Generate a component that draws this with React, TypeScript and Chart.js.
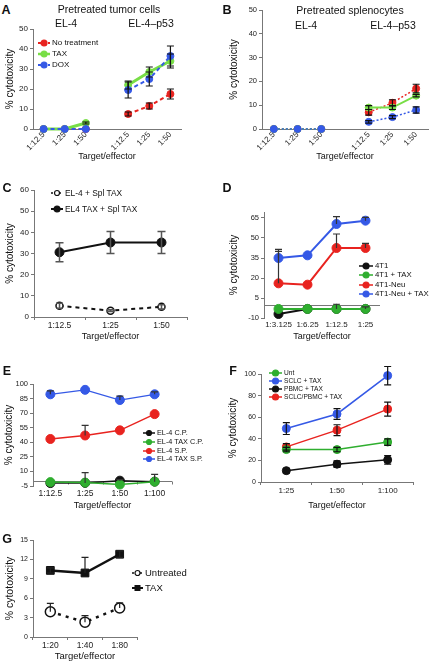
import React, { useEffect, useRef } from "react";
import { Chart, registerables } from "chart.js";

Chart.register(...registerables);

const FONT = '"Liberation Sans", Arial, Helvetica, sans-serif';
Chart.defaults.font.family = FONT;

const RED = "#e8231f";
const LIME = "#78de46";
const BLUE = "#3559e6";
const GREEN = "#2fae2f";
const BLACK = "#111111";
const AXIS = "#777777";

// ---------- Panel A: Pretreated tumor cells ----------
const A_CATEGORIES = ["1:12.5", "1:25", "1:50", "", "1:12.5", "1:25", "1:50"];
const A_Y_TICKS = [0, 10, 20, 30, 40, 50];
const A_NO_TREATMENT = [0, 0, 0, null, 7.5, 11.5, 17.5];
const A_NO_TREATMENT_ERR = [0, 0, 0, 0, 1, 1.5, 2.5];
const A_TAX = [0, 0, 3, null, 22, 28.5, 34];
const A_TAX_ERR = [0, 0, 0.5, 0, 2, 2.5, 3.5];
const A_DOX = [0, 0, 0, null, 19.5, 25, 36.5];
const A_DOX_ERR = [0, 0, 0, 0, 4, 3.5, 5];

// ---------- Panel B: Pretreated splenocytes ----------
const B_CATEGORIES = ["1:12.5", "1:25", "1:50", "", "1:12.5", "1:25", "1:50"];
const B_Y_TICKS = [0, 10, 20, 30, 40, 50];
const B_NO_TREATMENT = [0, 0, 0, null, 7, 11, 17];
const B_NO_TREATMENT_ERR = [0, 0, 0, 0, 1.2, 1.3, 1.8];
const B_TAX = [0, 0, 0, null, 9, 9, 14];
const B_TAX_ERR = [0, 0, 0, 0, 0.8, 0.8, 0.5];
const B_DOX = [0, 0, 0, null, 3, 5, 8];
const B_DOX_ERR = [0, 0, 0, 0, 0.5, 0.6, 1.3];

// ---------- Panel C ----------
const C_CATEGORIES = ["1:12.5", "1:25", "1:50"];
const C_Y_TICKS = [0, 10, 20, 30, 40, 50, 60];
const C_EL4_SPL_TAX = [5.3, 3.0, 4.8];
const C_EL4_SPL_TAX_ERR = [1.2, 0.4, 1.0];
const C_EL4TAX_SPL_TAX = [30.6, 35.2, 35.2];
const C_EL4TAX_SPL_TAX_ERR = [4.5, 5.2, 5.2];

// ---------- Panel D ----------
const D_CATEGORIES = ["1:3.125", "1:6.25", "1:12.5", "1:25"];
const D_Y_TICKS = [-10, 5, 20, 35, 50, 65];
const D_4T1 = [-7, -3.2, -3.2, -3.2];
const D_4T1_ERR_UP = [0, 0, 3.5, 1.5];
const D_4T1_TAX = [-3.2, -3.2, -3.2, -3.2];
const D_4T1_TAX_ERR_UP = [0, 0, 0, 0];
const D_4T1_NEU = [16, 15, 42.5, 42.5];
const D_4T1_NEU_ERR_UP = [24, 0, 10.5, 3.5];
const D_4T1_NEU_TAX = [35, 37, 60.5, 63];
const D_4T1_NEU_TAX_ERR_UP = [6.5, 0, 5.5, 2.5];

// ---------- Panel E ----------
const E_CATEGORIES = ["1:12.5", "1:25", "1:50", "1:100"];
const E_Y_TICKS = [-5, 10, 25, 40, 55, 70, 85, 100];
const E_EL4_CP = [-2, -1.8, 0.5, -0.5];
const E_EL4_CP_ERR_UP = [0, 10.5, 1, 7.5];
const E_EL4TAX_CP = [-1, -1.5, -3.5, -0.5];
const E_EL4TAX_CP_ERR_UP = [0, 0, 0, 0];
const E_EL4_SP = [43.4, 47, 52.3, 69];
const E_EL4_SP_ERR_UP = [0, 10.5, 0, 0];
const E_EL4TAX_SP = [89.4, 94, 83.5, 89.4];
const E_EL4TAX_SP_ERR_UP = [3.5, 0, 4, 2.5];

// ---------- Panel F ----------
const F_CATEGORIES = ["1:25", "1:50", "1:100"];
const F_Y_TICKS = [0, 10, 20, 30, 40, 50, 60, 70, 80, 90, 100];
const F_UNT = [30, 30, 37];
const F_UNT_ERR = [2, 2, 3];
const F_SCLC_TAX = [49.5, 63, 98.5];
const F_SCLC_TAX_ERR = [5.5, 5, 8.6];
const F_PBMC_TAX = [10.5, 16.5, 20.5];
const F_PBMC_TAX_ERR = [2, 3, 4];
const F_SCLC_PBMC_TAX = [32.5, 48, 67.5];
const F_SCLC_PBMC_TAX_ERR = [3, 5, 6.5];

// ---------- Panel G ----------
const G_CATEGORIES = ["1:20", "1:40", "1:80"];
const G_Y_TICKS = [0, 3, 6, 9, 12, 15];
const G_UNTREATED = [3.9, 2.3, 4.5];
const G_UNTREATED_ERR_UP = [1.3, 1.0, 0.8];
const G_TAX = [10.3, 9.9, 12.8];
const G_TAX_ERR_UP = [0.4, 2.4, 0.5];
const G_TAX_ERR_DOWN = [0.4, 0, 0.5];

// ---------- plugins ----------
const errorBars = {
  id: "errorBars",
  afterDatasetsDraw(chart: any) {
    const ctx = chart.ctx;
    const ys = chart.scales.y;
    chart.data.datasets.forEach((ds: any, di: number) => {
      if (!ds.errUp && !ds.errDown) return;
      const meta = chart.getDatasetMeta(di);
      ctx.save();
      ctx.strokeStyle = ds.errColor || BLACK;
      ctx.lineWidth = ds.errWidth || 1.2;
      const cap = ds.errCap ?? 3.5;
      meta.data.forEach((el: any, i: number) => {
        const v = ds.data[i];
        if (v == null) return;
        const u = ds.errUp ? ds.errUp[i] || 0 : 0;
        const d = ds.errDown ? ds.errDown[i] || 0 : 0;
        if (!u && !d) return;
        const x = el.x;
        const y1 = ys.getPixelForValue(v + u);
        const y0 = ys.getPixelForValue(v - d);
        ctx.beginPath();
        ctx.moveTo(x, y1);
        ctx.lineTo(x, y0);
        if (u) {
          ctx.moveTo(x - cap, y1);
          ctx.lineTo(x + cap, y1);
        }
        if (d) {
          ctx.moveTo(x - cap, y0);
          ctx.lineTo(x + cap, y0);
        }
        ctx.stroke();
      });
      ctx.restore();
    });
  },
};

function zeroLine(withTicks: boolean) {
  return {
    id: "zeroLine",
    beforeDatasetsDraw(chart: any) {
      const { ctx } = chart;
      const xs = chart.scales.x;
      const y = Math.round(chart.scales.y.getPixelForValue(0)) + 0.5;
      ctx.save();
      ctx.strokeStyle = AXIS;
      ctx.lineWidth = 1;
      ctx.beginPath();
      ctx.moveTo(xs.left, y);
      ctx.lineTo(xs.right, y);
      if (withTicks) {
        const n = xs.ticks.length;
        const slot = (xs.right - xs.left) / n;
        for (let i = 0; i <= n; i++) {
          const x = Math.round(xs.left + i * slot) + 0.5;
          ctx.moveTo(x, y);
          ctx.lineTo(x, y + 3);
        }
      }
      ctx.stroke();
      ctx.restore();
    },
  };
}

// ---------- dataset helper ----------
function series(
  label: string,
  data: (number | null)[],
  color: string,
  o: any = {}
) {
  return {
    label,
    data,
    borderColor: color,
    backgroundColor: o.fill ?? color,
    pointBackgroundColor: o.fill ?? color,
    pointBorderColor: o.pointBorder ?? color,
    pointBorderWidth: o.pointBorderWidth ?? 1,
    pointRadius: o.radius ?? 4,
    pointStyle: o.style ?? "circle",
    borderWidth: o.width ?? 2,
    borderDash: o.dash ?? [],
    segment: o.segment,
    tension: 0,
    spanGaps: false,
    clip: false,
    order: o.order ?? 0,
    errUp: o.errUp,
    errDown: o.errDown,
    errColor: o.errColor,
    errWidth: o.errWidth,
    errCap: o.errCap,
  };
}

type Spec = {
  plot: { L: number; T: number; R: number; B: number };
  yTitleX: number;
  xTitleY: number;
  categories: string[];
  yMin: number;
  yMax: number;
  yTicks: number[];
  datasets: any[];
  yTickFont: number;
  xTickFont: number;
  yTitleFont: number;
  xTitleFont: number;
  xRotate?: number;
  xTickMarks?: boolean;
  xLabelPad: number;
  zero?: "line" | "ticks";
  padRight?: number;
};

function geometry(s: Spec) {
  const padTop = 8;
  const padRight = s.padRight ?? 8;
  const left = Math.round(s.yTitleX - (s.yTitleFont * 1.2) / 2);
  const bottom = Math.round(s.xTitleY + (s.xTitleFont * 1.2) / 2);
  const top = s.plot.T - padTop;
  const right = s.plot.R + padRight;
  return {
    left,
    top,
    w: right - left,
    h: bottom - top,
    padTop,
    padRight,
    yWidth: s.plot.L - left,
    xHeight: bottom - s.plot.B,
  };
}

function buildConfig(s: Spec, g: any) {
  const rot = s.xRotate ?? 0;
  const plugins: any[] = [errorBars];
  if (s.zero) plugins.push(zeroLine(s.zero === "ticks"));
  return {
    type: "line",
    data: { labels: s.categories, datasets: s.datasets },
    plugins,
    options: {
      responsive: false,
      maintainAspectRatio: false,
      animation: false,
      devicePixelRatio: 1,
      layout: { padding: { top: g.padTop, right: g.padRight, left: 0, bottom: 0 } },
      plugins: { legend: { display: false }, tooltip: { enabled: false } },
      scales: {
        x: {
          type: "category",
          offset: true,
          grid: {
            display: !!s.xTickMarks,
            drawOnChartArea: false,
            drawTicks: !!s.xTickMarks,
            tickLength: 3,
            offset: true,
            color: AXIS,
          },
          border: { display: !s.zero, color: AXIS, width: 1 },
          ticks: {
            autoSkip: false,
            color: "#222",
            font: { size: s.xTickFont },
            padding: s.xLabelPad,
            minRotation: rot,
            maxRotation: rot,
          },
          title: {
            display: true,
            text: "Target/effector",
            color: "#111",
            font: { size: s.xTitleFont },
            padding: 0,
          },
          afterFit: (sc: any) => {
            sc.height = g.xHeight;
          },
        },
        y: {
          min: s.yMin,
          max: s.yMax,
          afterBuildTicks: (sc: any) => {
            sc.ticks = s.yTicks.map((v) => ({ value: v }));
          },
          grid: {
            display: true,
            drawOnChartArea: false,
            drawTicks: true,
            tickLength: 3,
            color: AXIS,
          },
          border: { display: true, color: AXIS, width: 1 },
          ticks: { color: "#222", font: { size: s.yTickFont }, padding: 2 },
          title: {
            display: true,
            text: "% cytotoxicity",
            color: "#111",
            font: { size: s.yTitleFont },
            padding: 0,
          },
          afterFit: (sc: any) => {
            sc.width = g.yWidth;
          },
        },
      },
    },
  };
}

function Panel({ spec }: { spec: Spec }) {
  const ref = useRef<HTMLCanvasElement>(null);
  const g = geometry(spec);
  useEffect(() => {
    const chart = new Chart(ref.current as HTMLCanvasElement, buildConfig(spec, g) as any);
    return () => chart.destroy();
  }, []);
  return (
    <canvas
      ref={ref}
      width={g.w}
      height={g.h}
      style={{ position: "absolute", left: g.left, top: g.top, width: g.w, height: g.h }}
    />
  );
}

function Txt({ x, y, size, bold, children }: any) {
  return (
    <div
      style={{
        position: "absolute",
        left: x,
        top: y,
        transform: "translate(-50%,-50%)",
        fontSize: size,
        fontWeight: bold ? "bold" : "normal",
        whiteSpace: "nowrap",
        lineHeight: 1,
        color: "#111",
      }}
    >
      {children}
    </div>
  );
}

type LegendItem = {
  label: string;
  color: string;
  dash?: string;
  marker: "circle" | "open" | "square";
  lw?: number;
  r?: number;
};

function Legend({ x, ys, items, size, mw }: { x: number; ys: number[]; items: LegendItem[]; size: number; mw: number }) {
  return (
    <>
      {items.map((it, i) => {
        const r = it.r ?? 3;
        return (
          <div
            key={i}
            style={{
              position: "absolute",
              left: x,
              top: ys[i] - 6,
              height: 12,
              display: "flex",
              alignItems: "center",
              whiteSpace: "nowrap",
              fontSize: size,
              lineHeight: 1,
              color: "#111",
            }}
          >
            <svg width={mw} height={12} style={{ marginRight: 2, flex: "none" }}>
              <line
                x1={0}
                y1={6}
                x2={mw}
                y2={6}
                stroke={it.color}
                strokeWidth={it.lw ?? 1.5}
                strokeDasharray={it.dash}
              />
              {it.marker === "square" ? (
                <rect x={mw / 2 - r} y={6 - r} width={2 * r} height={2 * r} fill={it.color} />
              ) : (
                <circle
                  cx={mw / 2}
                  cy={6}
                  r={r}
                  fill={it.marker === "open" ? "#fff" : it.color}
                  stroke={it.color}
                  strokeWidth={1.2}
                />
              )}
            </svg>
            <span>{it.label}</span>
          </div>
        );
      })}
    </>
  );
}

// ---------- panel specs ----------
const specA: Spec = {
  plot: { L: 33, T: 29, R: 181, B: 129 },
  yTitleX: 10,
  xTitleY: 157,
  categories: A_CATEGORIES,
  yMin: 0,
  yMax: 50,
  yTicks: A_Y_TICKS,
  yTickFont: 8,
  xTickFont: 8,
  yTitleFont: 10,
  xTitleFont: 9,
  xRotate: 45,
  xLabelPad: 1,
  datasets: [
    series("No treatment", A_NO_TREATMENT, RED, { dash: [4, 3], width: 2, radius: 3.5, order: 2, errUp: A_NO_TREATMENT_ERR, errDown: A_NO_TREATMENT_ERR }),
    series("TAX", A_TAX, LIME, { width: 3, radius: 3.5, order: 1, errUp: A_TAX_ERR, errDown: A_TAX_ERR }),
    series("DOX", A_DOX, BLUE, { dash: [4, 3], width: 2, radius: 3.5, order: 0, errUp: A_DOX_ERR, errDown: A_DOX_ERR }),
  ],
};

const specB: Spec = {
  plot: { L: 262, T: 10, R: 432, B: 129 },
  yTitleX: 234,
  xTitleY: 157,
  categories: B_CATEGORIES,
  yMin: 0,
  yMax: 50,
  yTicks: B_Y_TICKS,
  yTickFont: 7.5,
  xTickFont: 8,
  yTitleFont: 10,
  xTitleFont: 9,
  xRotate: 45,
  xLabelPad: 1,
  padRight: 1,
  datasets: [
    series("No treatment", B_NO_TREATMENT, RED, { dash: [2, 2], width: 1.5, radius: 3.5, order: 2, errUp: B_NO_TREATMENT_ERR, errDown: B_NO_TREATMENT_ERR }),
    series("TAX", B_TAX, LIME, {
      width: 2,
      radius: 3.5,
      order: 1,
      errUp: B_TAX_ERR,
      errDown: B_TAX_ERR,
      segment: { borderDash: (c: any) => (c.p0DataIndex < 3 ? [2, 2] : []) },
    }),
    series("DOX", B_DOX, BLUE, { dash: [2, 2], width: 1.5, radius: 3.5, order: 0, errUp: B_DOX_ERR, errDown: B_DOX_ERR }),
  ],
};

const specC: Spec = {
  plot: { L: 34, T: 190, R: 187, B: 317 },
  yTitleX: 10,
  xTitleY: 337,
  categories: C_CATEGORIES,
  yMin: 0,
  yMax: 60,
  yTicks: C_Y_TICKS,
  yTickFont: 8,
  xTickFont: 8.5,
  yTitleFont: 10,
  xTitleFont: 9,
  xTickMarks: true,
  xLabelPad: 1,
  datasets: [
    series("EL-4 + Spl TAX", C_EL4_SPL_TAX, BLACK, { dash: [4, 4], width: 2, radius: 3.5, fill: "#fff", pointBorderWidth: 1.5, order: 1, errUp: C_EL4_SPL_TAX_ERR, errDown: C_EL4_SPL_TAX_ERR, errColor: "#555", errWidth: 1.5 }),
    series("EL4 TAX + Spl TAX", C_EL4TAX_SPL_TAX, BLACK, { width: 2, radius: 4.5, order: 0, errUp: C_EL4TAX_SPL_TAX_ERR, errDown: C_EL4TAX_SPL_TAX_ERR, errColor: "#555", errWidth: 1.5, errCap: 4 }),
  ],
};

const specD: Spec = {
  plot: { L: 264, T: 212, R: 380, B: 318 },
  yTitleX: 234,
  xTitleY: 337,
  categories: D_CATEGORIES,
  yMin: -10,
  yMax: 69.5,
  yTicks: D_Y_TICKS,
  yTickFont: 7.5,
  xTickFont: 8,
  yTitleFont: 10,
  xTitleFont: 9,
  xLabelPad: 2,
  zero: "line",
  padRight: 20,
  datasets: [
    series("4T1", D_4T1, BLACK, { width: 2, radius: 4.5, order: 1, errUp: D_4T1_ERR_UP, errColor: "#333" }),
    series("4T1 + TAX", D_4T1_TAX, GREEN, { width: 2, radius: 4.5, order: 0, errUp: D_4T1_TAX_ERR_UP, errColor: "#333" }),
    series("4T1-Neu", D_4T1_NEU, RED, { width: 2, radius: 4.5, order: 2, errUp: D_4T1_NEU_ERR_UP, errColor: "#333" }),
    series("4T1-Neu + TAX", D_4T1_NEU_TAX, BLUE, { width: 2, radius: 4.5, order: 3, errUp: D_4T1_NEU_TAX_ERR_UP, errColor: "#333" }),
  ],
};

const specE: Spec = {
  plot: { L: 33, T: 384, R: 172, B: 486 },
  yTitleX: 9,
  xTitleY: 506,
  categories: E_CATEGORIES,
  yMin: -5,
  yMax: 100,
  yTicks: E_Y_TICKS,
  yTickFont: 7.5,
  xTickFont: 8.5,
  yTitleFont: 10,
  xTitleFont: 9,
  xLabelPad: 3,
  zero: "ticks",
  padRight: 20,
  datasets: [
    series("EL-4 C.P.", E_EL4_CP, BLACK, { width: 1.5, radius: 4.5, order: 1, errUp: E_EL4_CP_ERR_UP, errColor: "#333" }),
    series("EL-4 TAX C.P.", E_EL4TAX_CP, GREEN, { width: 1.5, radius: 4.5, order: 0, errUp: E_EL4TAX_CP_ERR_UP, errColor: "#333" }),
    series("EL-4 S.P.", E_EL4_SP, RED, { width: 1.5, radius: 4.5, order: 2, errUp: E_EL4_SP_ERR_UP, errColor: "#333" }),
    series("EL-4 TAX S.P.", E_EL4TAX_SP, BLUE, { width: 1.2, radius: 4.5, order: 3, errUp: E_EL4TAX_SP_ERR_UP, errColor: "#333" }),
  ],
};

const specF: Spec = {
  plot: { L: 261, T: 374, R: 413, B: 482 },
  yTitleX: 233,
  xTitleY: 506,
  categories: F_CATEGORIES,
  yMin: 0,
  yMax: 100,
  yTicks: F_Y_TICKS,
  yTickFont: 7,
  xTickFont: 8,
  yTitleFont: 10,
  xTitleFont: 9,
  xTickMarks: true,
  xLabelPad: 1,
  padRight: 15,
  datasets: [
    series("Unt", F_UNT, GREEN, { width: 1.5, radius: 4, order: 1, errUp: F_UNT_ERR, errDown: F_UNT_ERR }),
    series("SCLC + TAX", F_SCLC_TAX, BLUE, { width: 1.5, radius: 4, order: 0, errUp: F_SCLC_TAX_ERR, errDown: F_SCLC_TAX_ERR }),
    series("PBMC + TAX", F_PBMC_TAX, BLACK, { width: 1.5, radius: 4, order: 3, errUp: F_PBMC_TAX_ERR, errDown: F_PBMC_TAX_ERR }),
    series("SCLC/PBMC + TAX", F_SCLC_PBMC_TAX, RED, { width: 1.5, radius: 4, order: 2, errUp: F_SCLC_PBMC_TAX_ERR, errDown: F_SCLC_PBMC_TAX_ERR }),
  ],
};

const specG: Spec = {
  plot: { L: 33, T: 540, R: 137, B: 637 },
  yTitleX: 10,
  xTitleY: 656,
  categories: G_CATEGORIES,
  yMin: 0,
  yMax: 15,
  yTicks: G_Y_TICKS,
  yTickFont: 7,
  xTickFont: 8.5,
  yTitleFont: 10.5,
  xTitleFont: 9.5,
  xTickMarks: true,
  xLabelPad: 1,
  datasets: [
    series("Untreated", G_UNTREATED, BLACK, { dash: [3, 5], width: 2.5, radius: 5, fill: "#fff", pointBorderWidth: 1.5, order: 1, errUp: G_UNTREATED_ERR_UP, errColor: "#222" }),
    series("TAX", G_TAX, BLACK, { width: 2.5, radius: 5.5, style: "rect", order: 0, errUp: G_TAX_ERR_UP, errDown: G_TAX_ERR_DOWN, errColor: "#222" }),
  ],
};

export default function App() {
  useEffect(() => {
    document.body.style.margin = "0";
  }, []);
  return (
    <div
      style={{
        position: "absolute",
        left: 0,
        top: 0,
        width: 433,
        height: 663,
        overflow: "hidden",
        background: "#fff",
        fontFamily: FONT,
      }}
    >
      <Panel spec={specA} />
      <Panel spec={specB} />
      <Panel spec={specC} />
      <Panel spec={specD} />
      <Panel spec={specE} />
      <Panel spec={specF} />
      <Panel spec={specG} />

      {/* Panel letters */}
      <Txt x={6} y={10} size={12.5} bold>A</Txt>
      <Txt x={227} y={10} size={12.5} bold>B</Txt>
      <Txt x={7} y={188} size={12.5} bold>C</Txt>
      <Txt x={227} y={188} size={12.5} bold>D</Txt>
      <Txt x={7} y={371} size={12.5} bold>E</Txt>
      <Txt x={233} y={371} size={12.5} bold>F</Txt>
      <Txt x={7} y={539} size={12.5} bold>G</Txt>

      {/* Panel A headings */}
      <Txt x={109} y={9} size={10.5}>Pretreated tumor cells</Txt>
      <Txt x={66} y={23} size={10.5}>EL-4</Txt>
      <Txt x={151} y={23} size={10.5}>EL-4–p53</Txt>

      {/* Panel B headings */}
      <Txt x={350} y={10} size={10.5}>Pretreated splenocytes</Txt>
      <Txt x={306} y={25} size={10.5}>EL-4</Txt>
      <Txt x={393} y={25} size={10.5}>EL-4–p53</Txt>

      <Legend
        x={38}
        ys={[43, 54, 65]}
        size={8}
        mw={12}
        items={[
          { label: "No treatment", color: RED, dash: "3 2", marker: "circle", lw: 2 },
          { label: "TAX", color: LIME, marker: "circle", lw: 2.5 },
          { label: "DOX", color: BLUE, dash: "3 2", marker: "circle", lw: 2 },
        ]}
      />
      <Legend
        x={51}
        ys={[193, 209]}
        size={8.4}
        mw={12}
        items={[
          { label: "EL-4 + Spl TAX", color: BLACK, dash: "2 2", marker: "open", lw: 1.5, r: 2.5 },
          { label: "EL4 TAX + Spl TAX", color: BLACK, marker: "circle", lw: 2, r: 3 },
        ]}
      />
      <Legend
        x={359}
        ys={[266, 275, 285, 294]}
        size={7.8}
        mw={14}
        items={[
          { label: "4T1", color: BLACK, marker: "circle" },
          { label: "4T1 + TAX", color: GREEN, marker: "circle" },
          { label: "4T1-Neu", color: RED, marker: "circle" },
          { label: "4T1-Neu + TAX", color: BLUE, marker: "circle" },
        ]}
      />
      <Legend
        x={143}
        ys={[433, 442, 450.5, 459]}
        size={7.3}
        mw={12}
        items={[
          { label: "EL-4 C.P.", color: BLACK, marker: "circle", r: 2.5 },
          { label: "EL-4 TAX C.P.", color: GREEN, marker: "circle", r: 2.5 },
          { label: "EL-4 S.P.", color: RED, marker: "circle", r: 2.5 },
          { label: "EL-4 TAX S.P.", color: BLUE, marker: "circle", r: 2.5 },
        ]}
      />
      <Legend
        x={269}
        ys={[373, 381, 389, 397]}
        size={6.6}
        mw={13}
        items={[
          { label: "Unt", color: GREEN, marker: "circle" },
          { label: "SCLC + TAX", color: BLUE, marker: "circle" },
          { label: "PBMC + TAX", color: BLACK, marker: "circle" },
          { label: "SCLC/PBMC + TAX", color: RED, marker: "circle" },
        ]}
      />
      <Legend
        x={132}
        ys={[573, 588]}
        size={9.5}
        mw={11}
        items={[
          { label: "Untreated", color: BLACK, dash: "2 2", marker: "open", lw: 1.5, r: 2.5 },
          { label: "TAX", color: BLACK, marker: "square", lw: 2, r: 3 },
        ]}
      />
    </div>
  );
}
